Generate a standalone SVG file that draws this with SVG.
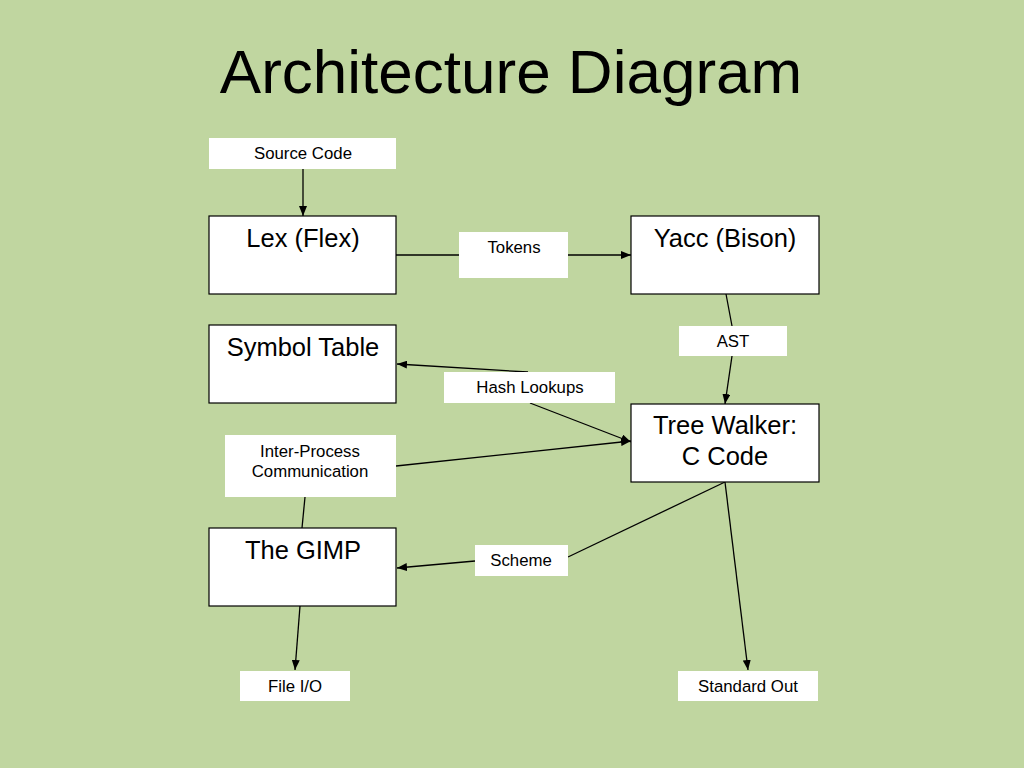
<svg xmlns="http://www.w3.org/2000/svg" width="1024" height="768" viewBox="0 0 1024 768">
<defs>
<style>
.box{fill:#fff;stroke:#000;stroke-width:1.2}
.lbl{fill:#fff}
.t1{font-family:"Liberation Sans",Arial,sans-serif;font-size:25.5px;fill:#000;text-anchor:middle}
.t2{font-family:"Liberation Sans",Arial,sans-serif;font-size:16.8px;fill:#000;text-anchor:middle}
.ln{stroke:#000;stroke-width:1.3;fill:none}
</style>
<marker id="ah" markerWidth="10" markerHeight="8" refX="10" refY="4" orient="auto" markerUnits="userSpaceOnUse">
<path d="M0,0 L10,4 L0,8 Z" fill="#000"/>
</marker>
</defs>
<rect width="1024" height="768" fill="#c0d6a0"/>
<text x="511" y="93" font-family="Liberation Sans,Arial,sans-serif" font-size="62" text-anchor="middle" fill="#000">Architecture Diagram</text>

<g id="connectors">
<line class="ln" x1="303" y1="169" x2="303" y2="216" marker-end="url(#ah)"/>
<line class="ln" x1="396" y1="255" x2="459" y2="255"/>
<line class="ln" x1="568" y1="255" x2="631" y2="255" marker-end="url(#ah)"/>
<line class="ln" x1="726" y1="294" x2="732" y2="326"/>
<line class="ln" x1="732" y1="356" x2="725" y2="404" marker-end="url(#ah)"/>
<line class="ln" x1="528" y1="372" x2="397" y2="364" marker-end="url(#ah)"/>
<line class="ln" x1="530" y1="403" x2="631" y2="442" marker-end="url(#ah)"/>
<line class="ln" x1="396" y1="466" x2="631" y2="441" marker-end="url(#ah)"/>
<line class="ln" x1="305" y1="497" x2="302" y2="528"/>
<line class="ln" x1="725" y1="482" x2="568" y2="557"/>
<line class="ln" x1="475" y1="561" x2="397" y2="568" marker-end="url(#ah)"/>
<line class="ln" x1="300" y1="606" x2="295" y2="670" marker-end="url(#ah)"/>
<line class="ln" x1="725" y1="482" x2="748" y2="670" marker-end="url(#ah)"/>
</g>

<g id="source-code"><rect class="lbl" x="209" y="138" width="187" height="31"/><text class="t2" x="303" y="159">Source Code</text></g>
<g id="lex"><rect class="box" x="209" y="216" width="187" height="78"/><text class="t1" x="303" y="247">Lex (Flex)</text></g>
<g id="tokens"><rect class="lbl" x="459" y="232" width="109" height="46"/><text class="t2" x="514" y="253">Tokens</text></g>
<g id="yacc"><rect class="box" x="631" y="216" width="188" height="78"/><text class="t1" x="725" y="247">Yacc (Bison)</text></g>
<g id="ast"><rect class="lbl" x="679" y="326" width="108" height="30"/><text class="t2" x="733" y="347">AST</text></g>
<g id="symbol-table"><rect class="box" x="209" y="325" width="187" height="78"/><text class="t1" x="303" y="356">Symbol Table</text></g>
<g id="hash-lookups"><rect class="lbl" x="444" y="372" width="171" height="31"/><text class="t2" x="530" y="393">Hash Lookups</text></g>
<g id="tree-walker"><rect class="box" x="631" y="404" width="188" height="78"/><text class="t1" x="725" y="434">Tree Walker:</text><text class="t1" x="725" y="465">C Code</text></g>
<g id="ipc"><rect class="lbl" x="225" y="435" width="171" height="62"/><text class="t2" x="310" y="457">Inter-Process</text><text class="t2" x="310" y="477">Communication</text></g>
<g id="gimp"><rect class="box" x="209" y="528" width="187" height="78"/><text class="t1" x="303" y="559">The GIMP</text></g>
<g id="scheme"><rect class="lbl" x="475" y="545" width="93" height="31"/><text class="t2" x="521" y="566">Scheme</text></g>
<g id="file-io"><rect class="lbl" x="240" y="671" width="110" height="30"/><text class="t2" x="295" y="692">File I/O</text></g>
<g id="standard-out"><rect class="lbl" x="678" y="671" width="140" height="30"/><text class="t2" x="748" y="692">Standard Out</text></g>
</svg>
